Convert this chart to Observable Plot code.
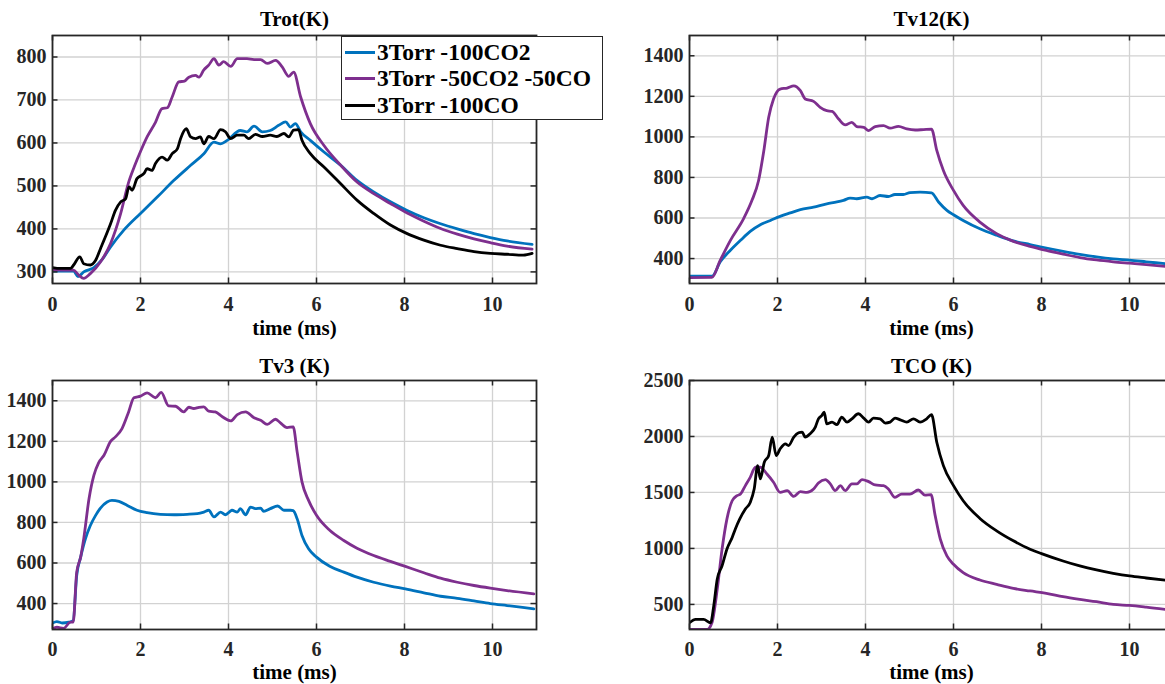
<!DOCTYPE html>
<html>
<head>
<meta charset="utf-8">
<script src="https://cdn.jsdelivr.net/npm/d3@7"></script>
<script src="https://cdn.jsdelivr.net/npm/@observablehq/plot@0.6"></script>
<style>
  html, body { margin: 0; padding: 0; background: #fff; }
  #root { position: relative; width: 1165px; height: 684px; overflow: hidden; background: #fff; }
  .panel { position: absolute; width: 600px; }
  .panel svg { max-width: none !important; }
  .panel svg text { font-family: "Liberation Serif", "Times New Roman", serif !important; font-weight: bold !important; font-variant: normal !important; }
  #legend { position: absolute; left: 341px; top: 36px; width: 260px; height: 82px; border: 1.5px solid #262626; background: #fff;
    font-family: "Liberation Serif", "Times New Roman", serif; font-weight: bold; font-size: 23.5px; color: #000; z-index: 5; }
  .lrow { position: absolute; left: 3px; height: 26px; display: flex; align-items: center; white-space: nowrap; }
  .lsw { width: 30px; height: 3px; margin-right: 2px; }
</style>
</head>
<body>
<div id="root"></div>
<script>
// ---- data ----
const xTicks = [0, 2, 4, 6, 8, 10];
const seriesNames = ["3Torr -100CO2", "3Torr -50CO2 -50CO", "3Torr -100CO"];
const seriesColors = ["#0072BD", "#7E2F8E", "#000000"];
const panelTitles = ["Trot(K)", "Tv12(K)", "Tv3 (K)", "TCO (K)"];
const xLabel = "time (ms)";

const trotYTicks = [300, 400, 500, 600, 700, 800];
const tv12YTicks = [400, 600, 800, 1000, 1200, 1400];
const tv3YTicks = [400, 600, 800, 1000, 1200, 1400];
const tcoYTicks = [500, 1000, 1500, 2000, 2500];

// Trot
const trotCO2 = [[0,302],[0.48,302],[0.58,289],[0.71,300],[0.94,310],[1.13,329],[1.32,358],[1.62,397],[2.0,436],[2.38,474],[2.76,513],[3.14,548],[3.44,575],[3.67,602],[3.82,598],[3.97,606],[4.27,629],[4.42,626],[4.58,639],[4.77,626],[4.95,629],[5.14,641],[5.3,649],[5.41,637],[5.52,645],[5.64,626],[5.86,606],[6.17,579],[6.55,548],[6.92,513],[7.3,486],[7.68,463],[8.06,443],[8.44,426],[8.82,412],[9.2,400],[9.58,389],[9.95,380],[10.33,372],[10.9,364]];
const trotMix = [[0,305],[0.48,304],[0.6,292],[0.71,285],[0.86,296],[1.09,323],[1.32,366],[1.55,436],[1.72,505],[1.86,545],[2.0,580],[2.15,614],[2.34,648],[2.49,680],[2.61,682],[2.72,707],[2.87,742],[3.0,744],[3.1,753],[3.25,757],[3.33,753],[3.44,770],[3.55,781],[3.67,796],[3.78,781],[3.89,789],[4.05,778],[4.2,796],[4.42,796],[4.58,794],[4.73,794],[4.88,785],[5.07,792],[5.22,777],[5.37,755],[5.48,765],[5.64,707],[5.86,645],[6.17,594],[6.55,548],[6.92,509],[7.3,482],[7.68,459],[8.06,437],[8.44,418],[8.82,401],[9.2,388],[9.58,377],[9.95,368],[10.33,360],[10.9,353]];
const trotCO = [[0,310],[0.18,308],[0.41,308],[0.48,316],[0.62,335],[0.71,319],[0.86,316],[0.98,327],[1.09,354],[1.2,381],[1.32,412],[1.43,443],[1.55,463],[1.66,470],[1.74,498],[1.81,490],[1.92,517],[2.08,529],[2.15,540],[2.26,536],[2.34,552],[2.49,567],[2.61,560],[2.72,575],[2.84,587],[2.91,610],[3.04,633],[3.14,614],[3.25,610],[3.36,614],[3.44,598],[3.55,615],[3.67,610],[3.82,631],[3.93,626],[4.05,610],[4.2,618],[4.35,618],[4.46,610],[4.61,620],[4.77,615],[4.95,618],[5.1,615],[5.26,622],[5.37,614],[5.48,630],[5.59,631],[5.67,606],[5.86,575],[6.17,544],[6.55,505],[6.92,467],[7.3,436],[7.68,409],[8.06,389],[8.44,374],[8.82,362],[9.2,354],[9.58,347],[9.95,343],[10.33,341],[10.7,339],[10.9,343]];

// Tv12
const tv12CO2 = [[0,313],[0.51,313],[0.7,384],[0.93,441],[1.16,490],[1.38,534],[1.61,567],[1.84,588],[2.06,608],[2.29,625],[2.52,641],[2.82,654],[3.12,670],[3.35,679],[3.5,687],[3.65,698],[3.8,695],[4.03,703],[4.15,695],[4.33,711],[4.52,706],[4.67,716],[4.86,716],[5.01,725],[5.24,728],[5.5,724],[5.66,679],[5.85,638],[6.0,616],[6.22,588],[6.6,547],[6.98,515],[7.36,487],[7.74,469],[8.0,457],[8.49,436],[8.87,421],[9.25,408],[9.63,398],[10.0,392],[10.38,384],[10.9,373]];
const tv12Mix = [[0,306],[0.51,307],[0.7,392],[0.93,490],[1.23,597],[1.42,687],[1.57,785],[1.69,933],[1.8,1097],[1.91,1187],[2.06,1236],[2.22,1241],[2.37,1252],[2.52,1228],[2.63,1187],[2.82,1175],[2.97,1146],[3.12,1129],[3.24,1126],[3.39,1088],[3.54,1059],[3.69,1072],[3.8,1051],[3.96,1047],[4.07,1031],[4.22,1051],[4.41,1056],[4.56,1043],[4.75,1052],[4.94,1039],[5.13,1034],[5.32,1036],[5.5,1038],[5.62,933],[5.77,834],[6.0,736],[6.22,662],[6.6,580],[6.98,523],[7.36,485],[7.74,460],[8.11,440],[8.49,422],[8.87,405],[9.25,393],[9.63,384],[10.0,377],[10.38,370],[10.9,360]];

// Tv3
const tv3CO2 = [[0,304],[0.1,311],[0.22,304],[0.37,308],[0.47,316],[0.55,538],[0.64,629],[0.75,720],[0.86,785],[0.98,835],[1.09,871],[1.24,901],[1.35,909],[1.51,904],[1.7,884],[1.92,860],[2.15,848],[2.45,840],[2.76,838],[3.06,840],[3.29,843],[3.44,851],[3.55,860],[3.67,827],[3.82,851],[3.93,838],[4.08,860],[4.2,851],[4.27,868],[4.39,838],[4.5,876],[4.61,868],[4.73,871],[4.8,855],[4.95,868],[5.12,881],[5.26,860],[5.41,860],[5.47,858],[5.56,818],[5.67,736],[5.82,670],[6.0,629],[6.3,584],[6.62,555],[6.92,530],[7.3,505],[7.68,486],[8.02,472],[8.44,453],[8.82,436],[9.2,426],[9.58,413],[9.95,400],[10.33,390],[10.94,374]];
const tv3Mix = [[0,275],[0.1,283],[0.25,278],[0.41,308],[0.47,308],[0.55,555],[0.64,629],[0.71,720],[0.83,917],[0.94,1032],[1.05,1095],[1.17,1131],[1.32,1200],[1.43,1222],[1.58,1263],[1.73,1345],[1.85,1415],[2.0,1423],[2.15,1439],[2.34,1415],[2.47,1441],[2.64,1375],[2.8,1373],[2.98,1345],[3.1,1368],[3.21,1362],[3.33,1368],[3.44,1370],[3.55,1349],[3.7,1345],[3.86,1321],[4.05,1301],[4.2,1332],[4.39,1345],[4.58,1316],[4.73,1304],[4.88,1284],[5.07,1309],[5.18,1291],[5.33,1268],[5.47,1271],[5.56,1148],[5.67,1000],[5.82,909],[6.0,835],[6.3,761],[6.62,711],[6.92,673],[7.3,637],[7.68,608],[8.02,583],[8.44,552],[8.82,525],[9.2,505],[9.58,489],[9.95,476],[10.33,464],[10.94,448]];

// TCO
const tcoMix = [[0,276],[0.4,276],[0.51,336],[0.63,634],[0.74,993],[0.85,1262],[0.97,1426],[1.08,1471],[1.16,1486],[1.27,1561],[1.38,1635],[1.5,1725],[1.61,1725],[1.76,1665],[1.91,1591],[2.06,1501],[2.22,1516],[2.37,1465],[2.52,1507],[2.67,1501],[2.82,1531],[2.93,1585],[3.09,1615],[3.2,1576],[3.31,1516],[3.43,1561],[3.54,1516],[3.69,1576],[3.8,1576],[3.92,1615],[4.07,1597],[4.22,1567],[4.41,1561],[4.52,1531],[4.67,1456],[4.82,1486],[5.01,1486],[5.2,1522],[5.35,1477],[5.49,1480],[5.58,1300],[5.7,1083],[5.85,933],[6.0,859],[6.22,784],[6.6,718],[6.98,679],[7.36,643],[7.74,620],[8.11,599],[8.49,569],[8.87,545],[9.25,524],[9.63,500],[10.0,491],[10.38,476],[10.9,452]];
const tcoCO = [[0,336],[0.14,366],[0.32,366],[0.48,336],[0.55,485],[0.63,724],[0.74,844],[0.85,993],[0.97,1098],[1.04,1172],[1.14,1262],[1.27,1352],[1.38,1411],[1.47,1531],[1.55,1740],[1.61,1621],[1.7,1770],[1.8,1830],[1.88,1994],[1.97,1830],[2.06,1889],[2.18,1934],[2.25,1919],[2.37,1994],[2.48,2033],[2.56,2039],[2.63,1994],[2.74,2024],[2.86,2084],[2.93,2158],[3.01,2188],[3.06,2218],[3.12,2113],[3.24,2128],[3.35,2105],[3.46,2173],[3.58,2128],[3.69,2158],[3.84,2203],[3.96,2164],[4.07,2128],[4.18,2164],[4.33,2158],[4.45,2120],[4.56,2128],[4.67,2164],[4.79,2149],[4.94,2128],[5.09,2158],[5.24,2128],[5.39,2158],[5.5,2195],[5.62,1949],[5.77,1740],[6.0,1561],[6.22,1426],[6.6,1268],[6.98,1157],[7.36,1068],[7.74,993],[8.0,954],[8.49,888],[8.87,844],[9.25,808],[9.63,778],[10.0,754],[10.38,736],[10.9,713]];

// ---- panels ----
const FONT = '"Liberation Serif", "Times New Roman", serif';
const TXT = "#262626";
const panels = [
  {title: panelTitles[0], left: 0, top: 0, height: 340, mt: 35, mb: 57, ml: 52, mr: 64, yDomain: [273, 850], yTicks: trotYTicks,
   series: [[trotCO2, 0], [trotMix, 1], [trotCO, 2]], tickPad: 13, titleDy: -16, labelDy: 45},
  {title: panelTitles[1], left: 600, top: 0, height: 340, mt: 35, mb: 57, ml: 89, mr: 27, yDomain: [277, 1500], yTicks: tv12YTicks,
   series: [[tv12CO2, 0], [tv12Mix, 1]], tickPad: 13, titleDy: -16, labelDy: 45},
  {title: panelTitles[2], left: 0, top: 340, height: 344, mt: 40, mb: 55, ml: 52, mr: 64, yDomain: [272, 1500], yTicks: tv3YTicks,
   series: [[tv3CO2, 0], [tv3Mix, 1]], tickPad: 12, titleDy: -14, labelDy: 43},
  {title: panelTitles[3], left: 600, top: 340, height: 344, mt: 40, mb: 55, ml: 89, mr: 27, yDomain: [276, 2500], yTicks: tcoYTicks,
   series: [[tcoMix, 1], [tcoCO, 2]], tickPad: 12, titleDy: -14, labelDy: 43}
];

const root = document.getElementById("root");
const W = 600, TL = 5.5;
for (const p of panels) {
  const fw = W - p.ml - p.mr, fh = p.height - p.mt - p.mb;
  const lineMarks = p.series.map(([data, ci]) =>
    Plot.line(data, {x: d => d[0], y: d => d[1], stroke: seriesColors[ci], strokeWidth: 2.8, strokeLinejoin: "round", curve: "monotone-x", clip: true}));
  const chart = Plot.plot({
    width: W, height: p.height,
    marginLeft: p.ml, marginRight: p.mr, marginTop: p.mt, marginBottom: p.mb,
    x: {domain: [0, 11]},
    y: {domain: p.yDomain},
    style: {fontFamily: FONT, fontWeight: "bold", fontSize: "20px", color: TXT, background: "white", overflow: "visible", maxWidth: "none"},
    marks: [
      Plot.gridX(xTicks, {stroke: "#d2d2d2", strokeOpacity: 1, strokeWidth: 1.3}),
      Plot.gridY(p.yTicks, {stroke: "#d2d2d2", strokeOpacity: 1, strokeWidth: 1.3}),
      ...lineMarks,
      Plot.tickX(xTicks, {x: d => d, insetTop: fh - TL, stroke: TXT, strokeWidth: 1.5}),
      Plot.tickX(xTicks, {x: d => d, insetBottom: fh - TL, stroke: TXT, strokeWidth: 1.5}),
      Plot.tickY(p.yTicks, {y: d => d, insetRight: fw - TL, stroke: TXT, strokeWidth: 1.5}),
      Plot.tickY(p.yTicks, {y: d => d, insetLeft: fw - TL, stroke: TXT, strokeWidth: 1.5}),
      Plot.axisX(xTicks, {tickSize: 0, tickPadding: p.tickPad, label: null, tickFormat: d => String(d),
        fontFamily: FONT, fontWeight: "bold", fontSize: 20, fill: TXT}),
      Plot.axisY(p.yTicks, {tickSize: 0, tickPadding: 6, label: null, tickFormat: d => String(d),
        fontFamily: FONT, fontWeight: "bold", fontSize: 20, fill: TXT}),
      Plot.frame({stroke: TXT, strokeWidth: 1.8}),
      Plot.text([p.title], {frameAnchor: "top", lineAnchor: "middle", dy: p.titleDy, fontFamily: FONT, fontSize: 21, fontWeight: "bold", fill: "#000"}),
      Plot.text([xLabel], {frameAnchor: "bottom", lineAnchor: "middle", dy: p.labelDy, fontFamily: FONT, fontSize: 21, fontWeight: "bold", fill: "#000"})
    ]
  });
  const div = document.createElement("div");
  div.className = "panel";
  div.style.left = p.left + "px";
  div.style.top = p.top + "px";
  div.appendChild(chart);
  root.appendChild(div);
}

// legend
const legend = document.createElement("div");
legend.id = "legend";
seriesNames.forEach((name, i) => {
  const row = document.createElement("div");
  row.className = "lrow";
  row.style.top = (2 + i * 26.7) + "px";
  const sw = document.createElement("span");
  sw.className = "lsw";
  sw.style.background = seriesColors[i];
  const tx = document.createElement("span");
  tx.textContent = name;
  row.appendChild(sw);
  row.appendChild(tx);
  legend.appendChild(row);
});
root.appendChild(legend);
</script>
</body>
</html>
